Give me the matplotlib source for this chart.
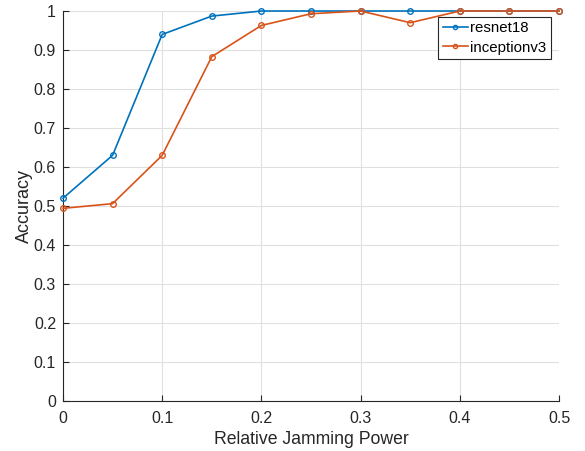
import matplotlib
matplotlib.use('Agg')
import matplotlib.pyplot as plt
import numpy as np

plt.rcParams['font.family'] = ['Liberation Sans', 'DejaVu Sans']

power = [0, 0.05, 0.1, 0.15, 0.2, 0.25, 0.3, 0.35, 0.4, 0.45, 0.5]
resnet18 = [0.52, 0.63, 0.94, 0.987, 1.0, 1.0, 1.0, 1.0, 1.0, 1.0, 1.0]
inceptionv3 = [0.494, 0.506, 0.63, 0.883, 0.963, 0.993, 1.0, 0.97, 1.0, 1.0, 1.0]

fig = plt.figure(figsize=(5.85, 4.51), dpi=100)
ax = fig.add_axes([0.1077, 0.1109, 0.8479, 0.8647])

ax.plot(power, resnet18, '-o', color='#0072BD', lw=1.2, ms=4,
        mfc='none', mew=1.0, label='resnet18', clip_on=False, zorder=3)
ax.plot(power, inceptionv3, '-o', color='#D95319', lw=1.2, ms=4,
        mfc='none', mew=1.0, label='inceptionv3', clip_on=False, zorder=3)

ax.set_xlim(0, 0.5)
ax.set_ylim(0, 1)
ax.set_xticks(np.arange(0, 0.51, 0.1))
ax.set_xticklabels(['0', '0.1', '0.2', '0.3', '0.4', '0.5'])
ax.set_yticks(np.arange(0, 1.01, 0.1))
ax.set_yticklabels(['0', '0.1', '0.2', '0.3', '0.4', '0.5', '0.6', '0.7', '0.8', '0.9', '1'])
ax.grid(True, color='#e0e0e0', lw=0.8)
ax.set_axisbelow(True)
for s in ['top', 'right']:
    ax.spines[s].set_visible(False)
for s in ['left', 'bottom']:
    ax.spines[s].set_color('#262626')
    ax.spines[s].set_linewidth(0.8)
ax.tick_params(direction='in', length=4, width=0.8, color='#262626',
               labelcolor='#262626', labelsize=11.5)
ax.tick_params(axis='x', pad=7)
ax.tick_params(axis='y', pad=5)

ax.set_xlabel('Relative Jamming Power', fontsize=12.7, color='#262626', labelpad=4)
ax.set_ylabel('Accuracy', fontsize=13, color='#262626', labelpad=0.5)

leg = ax.legend(loc='upper right', bbox_to_anchor=(0.984, 0.985), fontsize=10.8,
                fancybox=False, framealpha=1, edgecolor='#262626',
                handlelength=1.7, handletextpad=0.15, borderpad=0.3,
                labelspacing=0.35, borderaxespad=0, markerscale=0.75)
leg.get_frame().set_linewidth(0.8)

fig.savefig('out.png', dpi=100)
